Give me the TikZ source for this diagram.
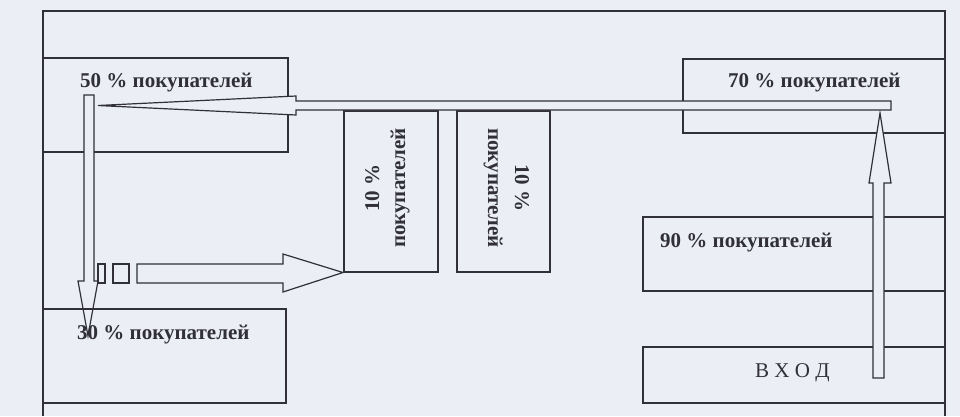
\documentclass[tikz,border=0pt]{standalone}
\usepackage{fontspec}
\setmainfont{Liberation Serif}
\definecolor{paper}{RGB}{236,238,246}
\definecolor{ink}{RGB}{48,48,54}
\begin{document}
\begin{tikzpicture}[x=1pt,y=-1pt,
  wall/.style={draw=ink,line width=1.3pt},
  blockarrow/.style={draw=ink,line width=1.2pt,fill=paper,line join=miter},
  lbl/.style={font=\fontsize{21}{25}\selectfont\bfseries,text=ink,inner sep=0pt},
  entrylbl/.style={font=\fontsize{21}{25}\selectfont,text=ink,inner sep=0pt}]
\fill[paper] (0,0) rectangle (960,416);
\useasboundingbox (0,0) rectangle (960,416);
% outer frame
\draw[wall] (43,416) -- (43,11) -- (945,11) -- (945,416);
% departments
\draw[wall] (43,58) rectangle (288,152);
\draw[wall] (683,59) rectangle (945,133);
\draw[wall] (344,111) rectangle (438,272);
\draw[wall] (457,111) rectangle (550,272);
\draw[wall] (643,217) rectangle (945,291);
\draw[wall] (643,347) rectangle (945,403);
% block arrows
\coordinate (entrytail) at (878.5,378);
\coordinate (uptip) at (880,113);
\coordinate (lefttip) at (98,105.5);
\coordinate (downtip) at (88,336);
\coordinate (righttip) at (343,272.5);
\draw[blockarrow] (873,378) -- (873,183) -- (869,183) -- (uptip) -- (891,183) -- (884,183) -- (884,378) -- cycle;
\draw[blockarrow] (891,101) -- (296,101) -- (296,96) -- (lefttip) -- (296,115) -- (296,110) -- (891,110) -- cycle;
\draw[blockarrow] (84,95) -- (94,95) -- (94,281) -- (98,281) -- (downtip) -- (78,281) -- (84,281) -- cycle;
\draw[blockarrow] (98,264) rectangle (105,283);
\draw[blockarrow] (113,264) rectangle (129,283);
\draw[blockarrow] (137,264) -- (283,264) -- (283,254) -- (righttip) -- (283,292) -- (283,283) -- (137,283) -- cycle;
\draw[wall] (43,309) rectangle (286,403);
% labels
\node[lbl,anchor=base west] (l50) at (80,87) {50 \% покупателей};
\node[lbl,anchor=base west] (l70) at (728,87) {70 \% покупателей};
\node[lbl,anchor=base west] (l90) at (660,247) {90 \% покупателей};
\node[lbl,anchor=base west] (l30) at (77,339) {30 \% покупателей};
\node[entrylbl,anchor=base west] (lin) at (755,377) {В Х О Д};
\node[lbl,anchor=base,rotate=90] (a1) at (379,188) {10 \%};
\node[lbl,anchor=base,rotate=90] (a2) at (405,188) {покупателей};
\node[lbl,anchor=base,rotate=-90] (b1) at (515,188) {10 \%};
\node[lbl,anchor=base,rotate=-90] (b2) at (488,188) {покупателей};
\end{tikzpicture}
\end{document}
